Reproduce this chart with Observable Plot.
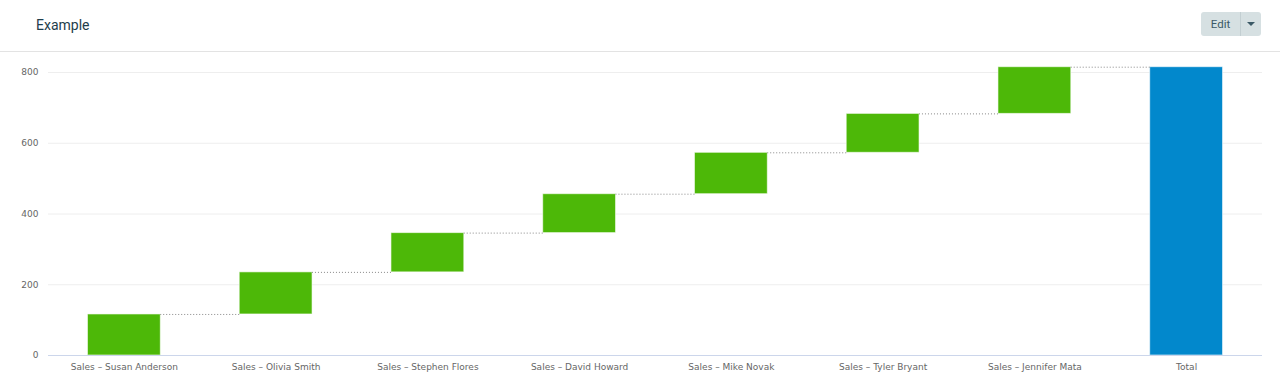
<!DOCTYPE html>
<html>
<head>
<meta charset="utf-8">
<script src="https://cdn.jsdelivr.net/npm/d3@7"></script>
<script src="https://cdn.jsdelivr.net/npm/@observablehq/plot@0.6"></script>
<style>
  html, body { margin: 0; padding: 0; background: #fff; }
  body { width: 1280px; height: 390px; overflow: hidden; font-family: Roboto, "Noto Sans", sans-serif; }
  .header { position: relative; height: 51px; border-bottom: 1px solid #e3e3e3; }
  .title { position: absolute; left: 36px; top: 17px; font-size: 14px; color: #1e3d4b; }
  .btn { position: absolute; left: 1201px; top: 12px; width: 60px; height: 24px; border-radius: 3px; background: #d6e0e2; display: flex; }
  .btn .lbl { width: 39px; border-right: 1px solid #c3cfd2; font-size: 11.5px; color: #3b5966; display: flex; align-items: center; justify-content: center; }
  .btn .caret { flex: 1; display: flex; align-items: center; justify-content: center; }
  .btn .caret span { width: 0; height: 0; border-left: 4px solid transparent; border-right: 4px solid transparent; border-top: 4px solid #3b5966; }
  #chart svg { display: block; }
</style>
</head>
<body>
<div class="header">
  <div class="title">Example</div>
  <div class="btn"><div class="lbl">Edit</div><div class="caret"><span></span></div></div>
</div>
<div id="chart"></div>
<script>
const categories = [
  "Sales – Susan Anderson",
  "Sales – Olivia Smith",
  "Sales – Stephen Flores",
  "Sales – David Howard",
  "Sales – Mike Novak",
  "Sales – Tyler Bryant",
  "Sales – Jennifer Mata"
];
const increments = [116, 119, 111, 110, 117, 110, 132];
const totalLabel = "Total";
const yTicks = [0, 200, 400, 600, 800];

// build waterfall table from the arrays
let running = 0;
const steps = categories.map((c, i) => {
  const start = running;
  running += increments[i];
  return {cat: c, y1: start, y2: running, kind: "step"};
});
const total = {cat: totalLabel, y1: 0, y2: running, kind: "total"};
const rows = [...steps, total];
const connectors = rows.slice(0, -1).map((r, i) => ({from: r.cat, to: rows[i + 1].cat, y: r.y2}));

const chart = Plot.plot({
  width: 1280,
  height: 338,
  marginTop: 20,
  marginBottom: 35,
  marginLeft: 48,
  marginRight: 18,
  style: {fontFamily: "'DejaVu Sans', sans-serif", fontSize: "9px", color: "#666", background: "#fff"},
  x: {domain: rows.map(d => d.cat), paddingInner: 0.52, paddingOuter: 0.26, round: false, label: null, tickSize: 0, tickPadding: 8},
  y: {domain: [0, 800], ticks: yTicks, label: null, tickSize: 0, tickPadding: 10, tickFormat: d => String(d)},
  marks: [
    Plot.gridY(yTicks.filter(t => t > 0), {stroke: "#eeeeee", strokeOpacity: 1}),
    Plot.rectY(rows, {
      x: "cat", y1: "y1", y2: "y2",
      fill: d => d.kind === "total" ? "#0288cc" : "#4db808",
      stroke: "#ffffff", strokeWidth: 1, strokeOpacity: 0.6
    }),
    // dotted connectors: x1 is the next band's start, x2 is the current band's end
    Plot.ruleY(connectors, {x1: "to", x2: "from", y: "y", stroke: "#888", strokeWidth: 1, strokeDasharray: "1,2"}),
    Plot.ruleY([0], {stroke: "#ccd6eb", strokeWidth: 1})
  ]
});
document.getElementById("chart").appendChild(chart);
</script>
</body>
</html>
